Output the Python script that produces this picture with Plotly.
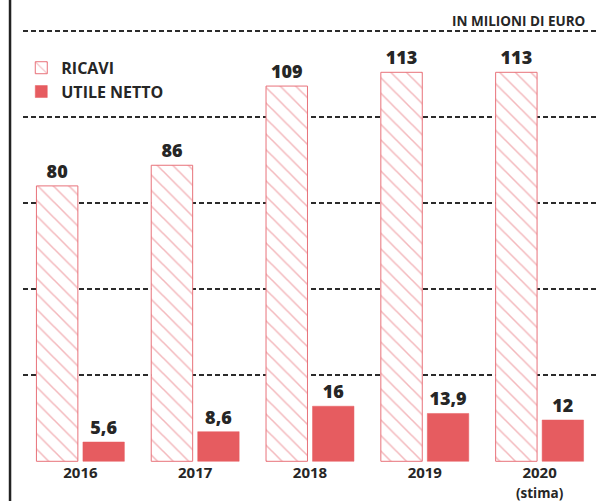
import plotly.graph_objects as go

# ---- data ----
categories = ['2016', '2017', '2018', '2019', '2020<br><span style="font-size:13.5px">(stima)</span>']
ricavi = [80, 86, 109, 113, 113]
utile_netto = [5.6, 8.6, 16, 13.9, 12]
series_names = ['RICAVI', 'UTILE NETTO']
grid_values = [0, 25, 50, 75, 100, 125]
unit_label = 'IN MILIONI DI EURO'

FONT = 'Open Sans'
DARK = '#262626'
HATCH = '#e8727a'
SOLID = '#e65c60'


def fmt(v):
    return f"{v:g}".replace('.', ',')


fig = go.Figure()
fig.add_trace(go.Bar(
    name=series_names[0], x=categories, y=ricavi,
    text=[fmt(v) for v in ricavi], textposition='outside', constraintext='none',
    cliponaxis=False,
    width=0.361, offset=-0.383,
    marker=dict(color='white', line=dict(color=HATCH, width=1),
                pattern=dict(shape='\\', fgcolor=HATCH, bgcolor='white',
                             size=11, solidity=0.14)),
    textfont=dict(family=FONT, size=18, color=DARK, weight=800),
))
fig.add_trace(go.Bar(
    name=series_names[1], x=categories, y=utile_netto,
    text=[fmt(v) for v in utile_netto], textposition='outside', constraintext='none',
    cliponaxis=False,
    width=0.361, offset=0.022,
    marker=dict(color=SOLID, line=dict(color=SOLID, width=0.5)),
    textfont=dict(family=FONT, size=18, color=DARK, weight=800),
))

fig.update_layout(
    width=597, height=501, autosize=False,
    margin=dict(l=23, r=0, t=0, b=39, pad=0),
    paper_bgcolor='white', plot_bgcolor='white',
    barmode='overlay',
    showlegend=True,
    legend=dict(x=-0.003, y=0.89, xanchor='left', yanchor='top',
                bgcolor='rgba(0,0,0,0)', traceorder='normal',
                font=dict(family=FONT, size=16, color=DARK, weight='bold'),
                itemwidth=30, tracegroupgap=2),
    xaxis=dict(range=[-0.5, 4.5], showgrid=False, showline=False, zeroline=False,
               ticks='', ticklabelstandoff=0, automargin=False,
               tickfont=dict(family=FONT, size=15, color=DARK, weight='bold')),
    yaxis=dict(range=[-0.2, 134.0], tickvals=grid_values, showticklabels=False,
               showgrid=True, gridcolor='#2b2b2b', griddash='5px,3px', gridwidth=1.5,
               zeroline=False, showline=False, automargin=False),
    annotations=[dict(text=unit_label, xref='paper', yref='paper', x=0.983, y=0.9545,
                      xanchor='right', yanchor='middle', showarrow=False,
                      font=dict(family=FONT, size=13.5, color=DARK, weight='bold'))],
    shapes=[dict(type='line', xref='paper', yref='paper', x0=-0.0226, x1=-0.0226,
                 y0=-0.09, y1=1.0, line=dict(color='#222222', width=2.5))],
)

fig.write_html('out.html')
